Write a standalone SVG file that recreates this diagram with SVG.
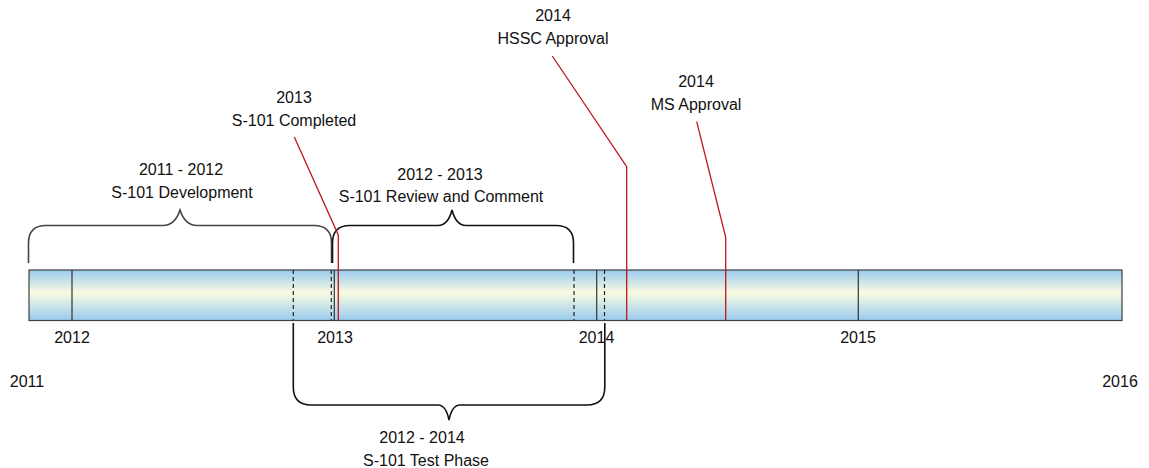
<svg xmlns="http://www.w3.org/2000/svg" width="1149" height="468" viewBox="0 0 1149 468">
<style>
text{font-family:"Liberation Sans",Arial,sans-serif;font-size:16px;fill:#111;text-anchor:middle}
.tick{stroke:#333;stroke-width:1.2;fill:none}
.dash{stroke:#222;stroke-width:1.2;stroke-dasharray:4,3;fill:none}
.brace{fill:none;stroke-width:1.6}
.red{fill:none;stroke:#c0141c;stroke-width:1.3}
</style>
<defs>
<linearGradient id="g" x1="0" y1="0" x2="0" y2="1">
<stop offset="0" stop-color="#99cbee"/>
<stop offset="0.45" stop-color="#fafbe2"/>
<stop offset="1" stop-color="#99cbee"/>
</linearGradient>
</defs>
<g id="timeline">
<rect x="29" y="270" width="1093" height="50.5" fill="url(#g)" stroke="#404040" stroke-width="1.2"/>
<line class="tick" x1="72" y1="270" x2="72" y2="320.5"/>
<line class="tick" x1="334.3" y1="270" x2="334.3" y2="320.5"/>
<line class="tick" x1="596.7" y1="270" x2="596.7" y2="320.5"/>
<line class="tick" x1="858.3" y1="270" x2="858.3" y2="320.5"/>
<line class="dash" x1="293.3" y1="270" x2="293.3" y2="320.5"/>
<line class="dash" x1="331.3" y1="270" x2="331.3" y2="320.5"/>
<line class="dash" x1="574" y1="270" x2="574" y2="320.5"/>
<line class="dash" x1="604.5" y1="270" x2="604.5" y2="320.5"/>
<text x="72" y="343">2012</text>
<text x="335" y="343">2013</text>
<text x="596.5" y="343">2014</text>
<text x="858" y="343">2015</text>
<text x="27" y="387">2011</text>
<text x="1120" y="387">2016</text>
</g>
<g id="connectors">
<path class="brace" stroke="#454545" d="M28.5,263 V243 Q28.5,225.5 46,225.5 H163 Q175,225.5 180,210 Q185,225.5 197,225.5 H314 Q331.5,225.5 331.5,243 V263"/>
<path class="brace" stroke="#111" d="M332.5,263 V243 Q332.5,225.5 350,225.5 H438 Q448,225.5 452,210 Q456,225.5 466,225.5 H556 Q573.5,225.5 573.5,243 V263"/>
<path class="brace" stroke="#111" d="M293.3,323 V387 Q293.3,405 311,405 H438 Q446,405 449,420 Q452,405 460,405 H587 Q604.8,405 604.8,387 V323"/>
<polyline class="red" points="294.3,137 338.3,235 338.3,320.5"/>
<polyline class="red" points="552.3,56 626.7,166.7 626.7,320.5"/>
<polyline class="red" points="696.7,121.7 725.7,237.3 725.7,320.5"/>
</g>
<g id="label-hssc">
<text x="553" y="21">2014</text>
<text x="553" y="44">HSSC Approval</text>
</g>
<g id="label-ms">
<text x="696" y="87">2014</text>
<text x="696" y="110">MS Approval</text>
</g>
<g id="label-completed">
<text x="294" y="103">2013</text>
<text x="294" y="126">S-101 Completed</text>
</g>
<g id="label-development">
<text x="181" y="175">2011 - 2012</text>
<text x="182" y="198">S-101 Development</text>
</g>
<g id="label-review">
<text x="440" y="180">2012 - 2013</text>
<text x="441" y="202">S-101 Review and Comment</text>
</g>
<g id="label-test">
<text x="422" y="443">2012 - 2014</text>
<text x="426" y="466">S-101 Test Phase</text>
</g>
</svg>
